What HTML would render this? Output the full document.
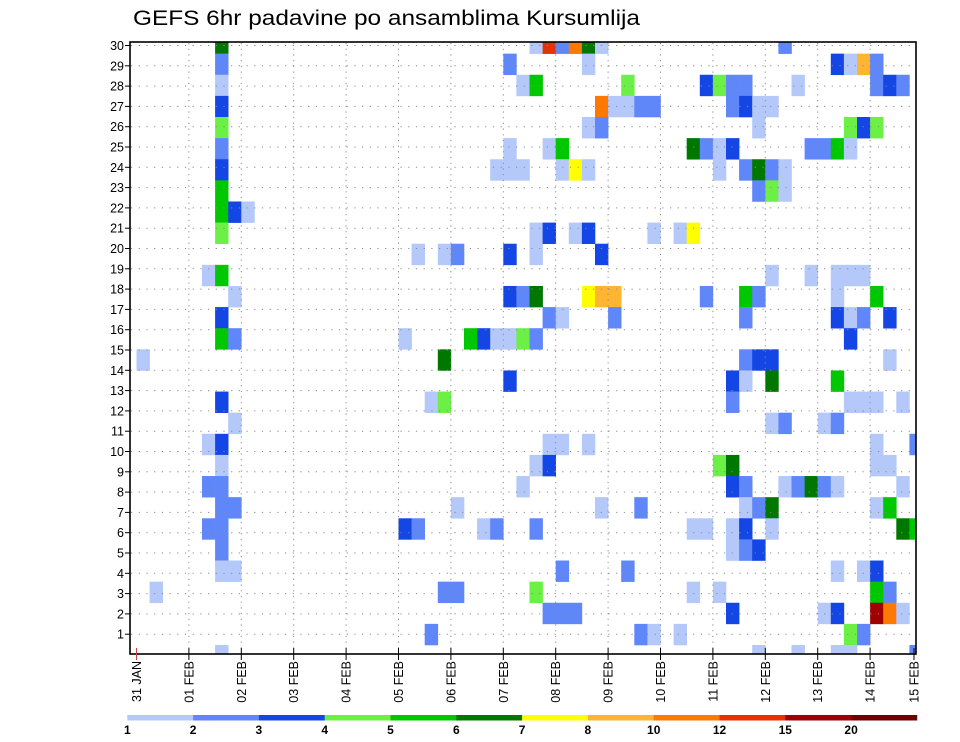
<!DOCTYPE html>
<html>
<head>
<meta charset="utf-8">
<style>
  html, body { margin: 0; padding: 0; background: #ffffff; }
  svg { display: block; font-family: "Liberation Sans", "DejaVu Sans", sans-serif; }
</style>
</head>
<body>
<svg id="chart" width="960" height="742" viewBox="0 0 960 742" xmlns="http://www.w3.org/2000/svg">
  <defs>
    <clipPath id="plotClip"><rect x="130" y="42" width="786" height="612"/></clipPath>
  </defs>
  <rect x="0" y="0" width="960" height="742" fill="#ffffff"/>
  <text x="133" y="25" font-size="21" textLength="507" lengthAdjust="spacingAndGlyphs" fill="#000">GEFS 6hr padavine po ansamblima Kursumlija</text>
  <g id="cells" clip-path="url(#plotClip)"></g>
  <g id="grid"></g>
  <rect x="130" y="42" width="786" height="612" fill="none" stroke="#000" stroke-width="1.6"/>
  <g id="yaxis"></g>
  <g id="xaxis"></g>
  <g id="legend"></g>
</svg>
<script>
// ---- data ----
const dayLabels = ["31 JAN","01 FEB","02 FEB","03 FEB","04 FEB","05 FEB","06 FEB","07 FEB","08 FEB","09 FEB","10 FEB","11 FEB","12 FEB","13 FEB","14 FEB","15 FEB"];
const memberTicks = [1,2,3,4,5,6,7,8,9,10,11,12,13,14,15,16,17,18,19,20,21,22,23,24,25,26,27,28,29,30];
const legendLevels = [1,2,3,4,5,6,7,8,10,12,15,20];
const legendColors = ["#b4c8fa","#5f87fa","#1446e6","#6cf046","#00c800","#007800","#ffff00","#ffb432","#ff7800","#e63200","#a00000","#6e0000"];

const cellMember = [
30,30,30,30,30,30,30,30,
29,29,29,29,29,29,29,
28,28,28,28,28,28,28,28,28,28,28,28,
27,27,27,27,27,27,27,27,27,27,
26,26,26,26,26,26,26,
25,25,25,25,25,25,25,25,25,25,25,25,
24,24,24,24,24,24,24,24,24,24,24,24,
23,23,23,23,
22,22,22,
21,21,21,21,21,21,21,21,
20,20,20,20,20,20,
19,19,19,19,19,19,19,
18,18,18,18,18,18,18,18,18,18,18,18,
17,17,17,17,17,17,17,17,17,
16,16,16,16,16,16,16,16,16,16,
15,15,15,15,15,15,
14,14,14,14,14,
13,13,13,13,13,13,13,13,
12,12,12,12,12,
11,11,11,11,11,11,11,
10,10,10,10,10,10,10,
9,9,9,9,9,9,9,9,9,9,9,
8,8,8,8,8,8,8,8,8,8,
7,7,7,7,7,7,7,7,7,7,7,7,7,7,
6,6,6,6,
5,5,5,5,5,5,5,
4,4,4,4,4,4,4,4,
3,3,3,3,3,3,3,3,3,
2,2,2,2,2,2,
1,1,1,1,1,1];
const cellStep = [
6,30,31,32,33,34,35,49,
6,28,34,53,54,55,56,
6,29,30,37,43,44,45,46,50,56,57,58,
6,35,36,37,38,39,45,46,47,48,
6,34,35,47,54,55,56,
6,28,31,32,42,43,44,45,51,52,53,54,
6,27,28,29,32,33,34,44,46,47,48,49,
6,47,48,49,
6,7,8,
6,30,31,33,34,39,41,42,
21,23,24,28,30,35,
5,6,48,51,53,54,55,
7,28,29,30,34,35,36,43,46,47,53,56,
6,31,32,36,46,53,54,55,57,
6,7,20,25,26,27,28,29,30,54,
0,23,46,47,48,57,
28,45,46,48,53,
6,22,23,45,54,55,56,58,
7,48,49,52,53,
5,6,31,32,34,56,59,
6,30,31,44,45,56,57,
5,6,29,45,46,49,50,51,52,53,58,
6,7,24,35,38,46,47,48,56,57,
5,6,20,21,26,27,30,42,43,45,46,48,58,59,
6,45,46,47,
6,7,32,37,53,55,56,
1,23,24,30,42,44,56,57,
31,32,33,45,52,53,56,57,58,
22,38,39,41,54,55,
6,47,50,53,54,59];
const cellValue = [
6.5,1.5,13,2.5,11,6.5,1.5,2.5,
2.5,2.5,1.5,3.5,1.5,9,2.5,
1.5,1.5,5.5,4.5,3.5,4.5,2.5,2.5,1.5,2.5,3.5,2.5,
3.5,11,1.5,1.5,2.5,2.5,2.5,3.5,1.5,1.5,
4.5,1.5,2.5,1.5,4.5,3.5,4.5,
2.5,1.5,1.5,5.5,6.5,2.5,1.5,3.5,2.5,2.5,5.5,1.5,
3.5,1.5,1.5,1.5,1.5,7.5,1.5,1.5,2.5,6.5,2.5,1.5,
5.5,2.5,4.5,1.5,
5.5,3.5,1.5,
4.5,1.5,3.5,1.5,3.5,1.5,1.5,7.5,
1.5,1.5,2.5,3.5,1.5,3.5,
1.5,5.5,1.5,1.5,1.5,1.5,1.5,
1.5,3.5,2.5,6.5,7.5,9,9,2.5,5.5,2.5,1.5,5.5,
3.5,2.5,1.5,2.5,2.5,3.5,1.5,2.5,3.5,
5.5,2.5,1.5,5.5,3.5,1.5,1.5,4.5,2.5,3.5,
1.5,6.5,2.5,3.5,3.5,1.5,
3.5,3.5,1.5,6.5,5.5,
3.5,1.5,4.5,2.5,1.5,1.5,1.5,1.5,
1.5,1.5,2.5,1.5,2.5,
1.5,3.5,1.5,1.5,1.5,1.5,2.5,
1.5,1.5,3.5,4.5,6.5,1.5,1.5,
2.5,2.5,1.5,3.5,2.5,1.5,2.5,6.5,2.5,1.5,1.5,
2.5,2.5,1.5,1.5,2.5,1.5,2.5,6.5,1.5,5.5,
2.5,2.5,3.5,2.5,1.5,2.5,2.5,1.5,1.5,1.5,3.5,1.5,6.5,5.5,
2.5,1.5,2.5,3.5,
1.5,1.5,2.5,2.5,1.5,1.5,3.5,
1.5,2.5,2.5,4.5,1.5,1.5,5.5,2.5,
2.5,2.5,2.5,3.5,1.5,3.5,17,11,1.5,
2.5,2.5,1.5,1.5,4.5,2.5,
1.5,1.5,1.5,1.5,1.5,2.5];

// ---- scales ----
const SVGNS = "http://www.w3.org/2000/svg";
const X0 = 136.5, DAY = 52.4, STEP = DAY / 4;
function xStep(s) { return X0 + s * STEP; }
function xDay(d) { return X0 + d * DAY; }
const CELL_H = 21.12;
function yCellTop(m) { return 645 - CELL_H * (m - 1); }
function yTick(r) { return 654.5 - 20.3 * r; }
function colorFor(v) {
  let idx = 0;
  for (let k = 0; k < legendLevels.length; k++) { if (v >= legendLevels[k]) idx = k; }
  return legendColors[idx];
}
function mk(tag, attrs) {
  const el = document.createElementNS(SVGNS, tag);
  for (const k in attrs) el.setAttribute(k, attrs[k]);
  return el;
}

// ---- cells ----
const gCells = document.getElementById("cells");
for (let i = 0; i < cellStep.length; i++) {
  const r = mk("rect", {
    x: xStep(cellStep[i]).toFixed(2),
    y: yCellTop(cellMember[i]).toFixed(2),
    width: (STEP + 0.3).toFixed(2),
    height: (CELL_H + 0.3).toFixed(2),
    fill: colorFor(cellValue[i])
  });
  
  
  gCells.appendChild(r);
}

// ---- grid ----
const gGrid = document.getElementById("grid");
for (let r = 1; r <= 30; r++) {
  const y = yTick(r);
  const ln = mk("line", { x1: 131, x2: 915, y1: y, y2: y, stroke: "#8a8a8a", "stroke-width": 1, "stroke-dasharray": "1.2,6.5" });
  
  
  gGrid.appendChild(ln);
}
for (let d = 1; d < dayLabels.length - 1; d++) {
  const x = xDay(d);
  const ln = mk("line", { x1: x, x2: x, y1: 43, y2: 653, stroke: "#8a8a8a", "stroke-width": 1, "stroke-dasharray": "1.2,4.5" });
  
  
  gGrid.appendChild(ln);
}

// ---- y axis ----
const gY = document.getElementById("yaxis");
for (let k = 0; k < memberTicks.length; k++) {
  const r = memberTicks[k];
  const y = yTick(r);
  const t = mk("line", { x1: 125, x2: 130, y1: y, y2: y, stroke: "#000", "stroke-width": 1 });
  
  
  gY.appendChild(t);
  const lb = mk("text", { x: 124, y: y + 4.5, "font-size": 12.5, "text-anchor": "end", fill: "#000" });
  lb.textContent = String(r);
  
  
  gY.appendChild(lb);
}

// ---- x axis ----
const gX = document.getElementById("xaxis");
for (let d = 0; d < dayLabels.length; d++) {
  let x = xDay(d);
  if (d === dayLabels.length - 1) x = 914;
  const t = mk("line", { x1: x, x2: x, y1: 648, y2: 660, stroke: d === 0 ? "#d04040" : "#000", "stroke-width": 1 });
  
  
  gX.appendChild(t);
  const lb = mk("text", { "font-size": 12.5, "text-anchor": "end", fill: "#000",
    transform: "translate(" + (x + 4.5).toFixed(1) + ",661) rotate(-90)" });
  lb.textContent = dayLabels[d];
  
  
  gX.appendChild(lb);
}

// ---- legend ----
const gL = document.getElementById("legend");
const L0 = 127.3, LW = 65.8;
for (let k = 0; k < legendColors.length; k++) {
  const r = mk("rect", { x: (L0 + k * LW).toFixed(1), y: 715, width: (LW + 0.3).toFixed(1), height: 5.5, fill: legendColors[k] });
  
  
  gL.appendChild(r);
  const lb = mk("text", { x: (L0 + k * LW).toFixed(1), y: 734, "font-size": 12, "font-weight": "bold", "text-anchor": "middle", fill: "#000" });
  lb.textContent = String(legendLevels[k]);
  
  
  gL.appendChild(lb);
}
</script>
</body>
</html>
